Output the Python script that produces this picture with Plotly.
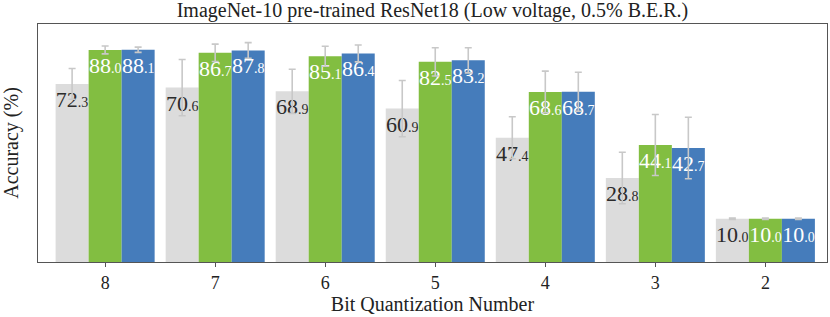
import plotly.graph_objects as go

categories = ["8", "7", "6", "5", "4", "3", "2"]
gray_vals = [72.3, 70.6, 68.9, 60.9, 47.4, 28.8, 10.0]
green_vals = [88.0, 86.7, 85.1, 82.5, 68.6, 44.1, 10.0]
blue_vals = [88.1, 87.8, 86.4, 83.2, 68.7, 42.7, 10.0]
gray_err = [7.1, 13.0, 10.2, 13.0, 9.7, 11.9, 0.3]
green_err = [1.8, 4.0, 4.6, 6.5, 9.6, 14.1, 0.3]
blue_err = [1.2, 3.6, 3.9, 5.8, 9.0, 14.2, 0.3]

Y_MIN, Y_MAX = -10, 100
FONT = "Liberation Serif"


def label(v):
    s = f"{v:.1f}"
    whole, dec = s.split(".")
    return f"{whole}<span style='font-size:14px'>.{dec}</span>"


series = [
    ("Series 1", gray_vals, gray_err, "#dcdcdc", "#2b2b2b"),
    ("Series 2", green_vals, green_err, "#82be41", "#ffffff"),
    ("Series 3", blue_vals, blue_err, "#457cbb", "#ffffff"),
]

fig = go.Figure()
for name, vals, errs, color, tcolor in series:
    fig.add_trace(go.Bar(
        name=name,
        x=categories,
        y=[v - Y_MIN for v in vals],
        base=Y_MIN,
        marker=dict(color=color, line=dict(width=0)),
        text=[label(v) for v in vals],
        textposition="inside",
        insidetextanchor="end",
        textangle=0,
        constraintext="none",
        textfont=dict(family=FONT, size=22, color=tcolor),
        error_y=dict(type="data", array=errs, color="#c8c8c8",
                     thickness=1.6, width=3.5),
        showlegend=False,
        hoverinfo="skip",
    ))

fig.update_layout(
    width=830, height=317,
    margin=dict(l=38, r=3, t=24, b=55),
    paper_bgcolor="white", plot_bgcolor="white",
    barmode="group", bargap=0.1, bargroupgap=0,
    uniformtext=dict(minsize=22, mode="show"),
    font=dict(family=FONT, size=20, color="#222"),
    title=dict(text="ImageNet-10 pre-trained ResNet18 (Low voltage, 0.5% B.E.R.)",
               x=0.521, xanchor="center", y=0.967, yanchor="middle",
               font=dict(family=FONT, size=20, color="#222")),
)
fig.update_xaxes(
    type="category", range=[-0.61, 6.56], automargin=False,
    showline=True, linecolor="#555", linewidth=1.3, mirror=True,
    ticks="outside", ticklen=4, tickcolor="#555", tickwidth=1.2,
    tickfont=dict(family=FONT, size=18, color="#222"),
    title=dict(text="Bit Quantization Number", standoff=4,
               font=dict(family=FONT, size=20, color="#222")),
    showgrid=False, zeroline=False,
)
fig.update_yaxes(
    range=[Y_MIN, Y_MAX], automargin=False,
    showline=True, linecolor="#555", linewidth=1.3, mirror=True,
    showticklabels=False, ticks="", showgrid=False, zeroline=False,
    title=dict(text="Accuracy (%)", standoff=13,
               font=dict(family=FONT, size=20, color="#222")),
)

fig.write_html("out.html", config={"displayModeBar": False},
               post_script="document.body.style.margin='0';")
